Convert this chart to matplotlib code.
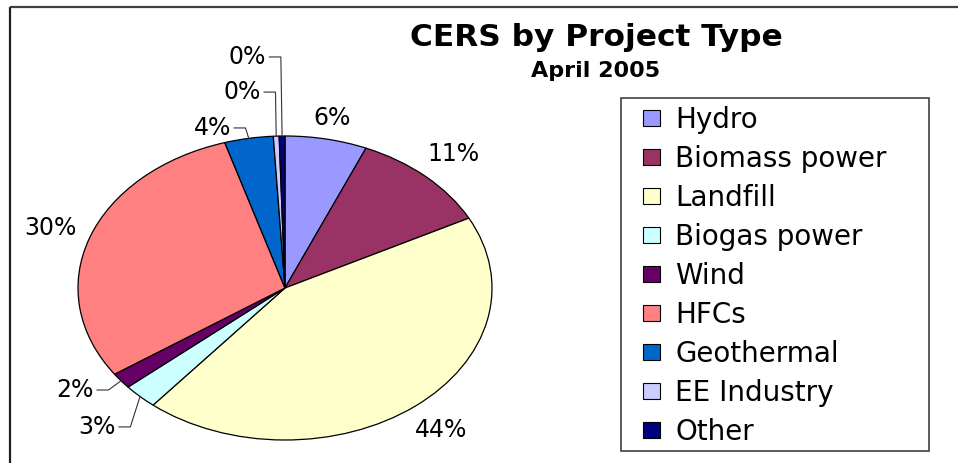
import numpy as np
import matplotlib

matplotlib.use("Agg")
import matplotlib.pyplot as plt
from matplotlib.patches import Patch, Rectangle

plt.rcParams["font.family"] = ["DejaVu Sans"]

# ---- data (percent of CERs) ----
TYPES = ["Hydro", "Biomass power", "Landfill", "Biogas power", "Wind",
         "HFCs", "Geothermal", "EE Industry", "Other"]
SHARES = [6.4, 11.0, 43.6, 2.7, 1.7, 29.9, 3.8, 0.45, 0.45]
COLORS = ["#9999FF", "#993366", "#FFFFCC", "#CCFFFF", "#660066",
          "#FF8080", "#0066CC", "#CCCCFF", "#000080"]

# ---- label layout (pie data units; None = plain label on the radius) ----
LABEL_R = [1.14, 1.2, 1.2, None, None, 1.2, None, None, None]
LEADER_START = {3: (-0.807, -0.914), 4: (-0.913, -0.671), 6: (-0.251, 1.053),
                7: (-0.106, 1.289), 8: (-0.080, 1.520)}

W, H = 958, 463
fig = plt.figure(figsize=(W / 100, H / 100), dpi=100)

# overlay axes in pixel coordinates for frame, title, legend
ov = fig.add_axes([0, 0, 1, 1])
ov.set_xlim(0, W)
ov.set_ylim(H, 0)
ov.axis("off")
ov.plot([10, W], [7, 7], color="#404040", lw=1.6, solid_capstyle="butt")
ov.plot([10, 10], [7, H], color="#202020", lw=1.6, solid_capstyle="butt")
ov.text(596, 38, "CERS by Project Type", ha="center", va="center",
        fontsize=22.5, fontweight="bold")
ov.text(596, 71, "April 2005", ha="center", va="center",
        fontsize=16, fontweight="bold")

ov.add_patch(Rectangle((621, 98), 308, 353, facecolor="white",
                       edgecolor="#404040", lw=1.2))
handles = [Patch(facecolor=c, edgecolor="black", lw=0.8) for c in COLORS]
ov.legend(handles, TYPES, loc="upper left", bbox_to_anchor=(643, 106),
          bbox_transform=ov.transData, frameon=False, fontsize=20,
          borderaxespad=0, borderpad=0, handlelength=0.62, handleheight=0.52,
          handletextpad=0.55, labelspacing=0.395)

# pie axes: stretched box so the pie becomes the wide ellipse of the original
pa = fig.add_axes([78 / W, (H - 440) / H, 414 / W, 304 / H])
pa.pie(SHARES, colors=COLORS, startangle=90, counterclock=False,
       wedgeprops=dict(edgecolor="black", linewidth=0.9))
pa.set_aspect("auto")
pa.set_xlim(-1, 1)
pa.set_ylim(-1, 1)
pa.axis("off")

cum = np.cumsum(SHARES)
mids = (cum - np.asarray(SHARES) / 2) / cum[-1] * 2 * np.pi
for i, (v, th) in enumerate(zip(SHARES, mids)):
    txt = f"{v:.0f}%"
    ex, ey = np.sin(th), np.cos(th)
    if LABEL_R[i] is not None:
        r = LABEL_R[i]
        pa.text(r * ex, r * ey, txt, ha="center", va="center", fontsize=17,
                clip_on=False)
    else:
        sx, sy = LEADER_START[i]
        pa.text(sx - 0.01, sy, txt, ha="right", va="center", fontsize=17,
                clip_on=False)
        pa.plot([sx + 0.005, sx + 0.06, ex], [sy, sy, ey], color="#333333",
                lw=0.8, clip_on=False)

fig.savefig("out.png", dpi=100)
